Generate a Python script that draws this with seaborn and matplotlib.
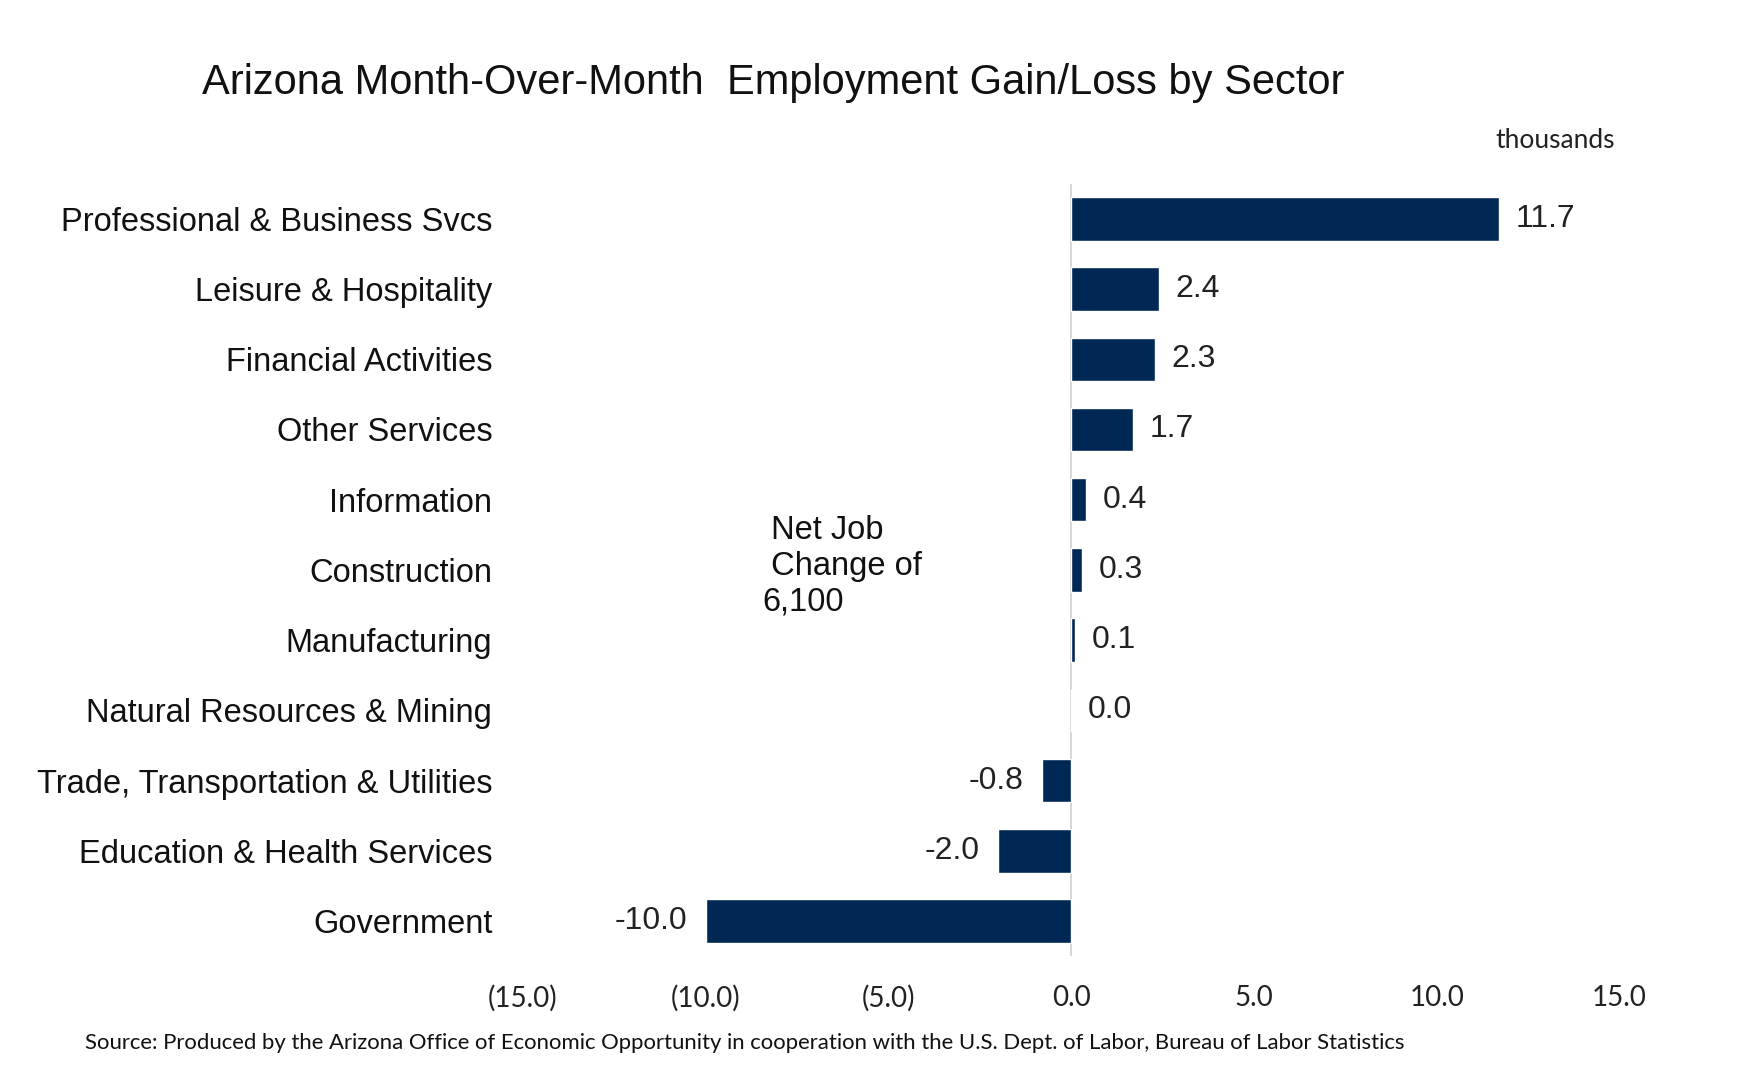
import pandas as pd
import matplotlib
matplotlib.use('Agg')
import matplotlib.pyplot as plt
import seaborn as sns

# data
sectors = ['Professional & Business Svcs', 'Leisure & Hospitality', 'Financial Activities',
           'Other Services', 'Information', 'Construction', 'Manufacturing',
           'Natural Resources & Mining', 'Trade, Transportation & Utilities',
           'Education & Health Services', 'Government']
change = [11.7, 2.4, 2.3, 1.7, 0.4, 0.3, 0.1, 0.0, -0.8, -2.0, -10.0]
x_ticks = [-15, -10, -5, 0, 5, 10, 15]

df = pd.DataFrame({'sector': sectors, 'change': change})

sns.set_style('white')
plt.rcParams['font.family'] = ['Liberation Sans', 'DejaVu Sans']

navy = '#002855'
fig = plt.figure(figsize=(17.37, 10.84), dpi=100)
ax = fig.add_axes([0.301, 0.118, 0.6313, 0.7125])

sns.barplot(data=df, x='change', y='sector', color=navy, width=0.62,
            saturation=1, orient='h', ax=ax)

ax.set_xlim(-15, 15)
ax.set_ylim(10.5, -0.5)
ax.set_xticks(x_ticks)
ax.set_xticklabels([f'({abs(t):.1f})' if t < 0 else f'{t:.1f}' for t in x_ticks],
                   fontsize=20, family=['Lato', 'DejaVu Sans'], color='#222222')
ax.tick_params(axis='x', length=0, pad=21)
ax.tick_params(axis='y', length=0, pad=22, labelsize=23.5)
for lbl in ax.get_yticklabels():
    lbl.set_color('#111111')
ax.set_xlabel('')
ax.set_ylabel('')
for s in ax.spines.values():
    s.set_visible(False)
ax.axvline(0, color='#d0d0d0', lw=1.2, zorder=0)

# value labels
for i, v in enumerate(change):
    if v < 0:
        ax.annotate(f'{v:.1f}', (v, i), xytext=(-13, 0), textcoords='offset points',
                    ha='right', va='center', fontsize=23, color='#222222')
    else:
        ax.annotate(f'{v:.1f}', (v, i), xytext=(12, 0), textcoords='offset points',
                    ha='left', va='center', fontsize=23, color='#222222')

ax.text(-8.45, 4.95, ' Net Job\n Change of\n6,100', ha='left', va='center',
        fontsize=23.5, color='#111111', linespacing=1.2)

fig.text(0.445, 0.923, 'Arizona Month-Over-Month  Employment Gain/Loss by Sector',
         ha='center', va='center', fontsize=30, color='#111111')
fig.text(0.8955, 0.870, 'thousands', ha='center', va='center', fontsize=19,
         family=['Lato', 'DejaVu Sans'], color='#222222')
fig.text(0.049, 0.038, 'Source: Produced by the Arizona Office of Economic Opportunity '
         'in cooperation with the U.S. Dept. of Labor, Bureau of Labor Statistics',
         ha='left', va='center', fontsize=15.9, family=['Lato', 'DejaVu Sans'],
         color='#111111')

fig.savefig('out.png', dpi=100, facecolor='white')
